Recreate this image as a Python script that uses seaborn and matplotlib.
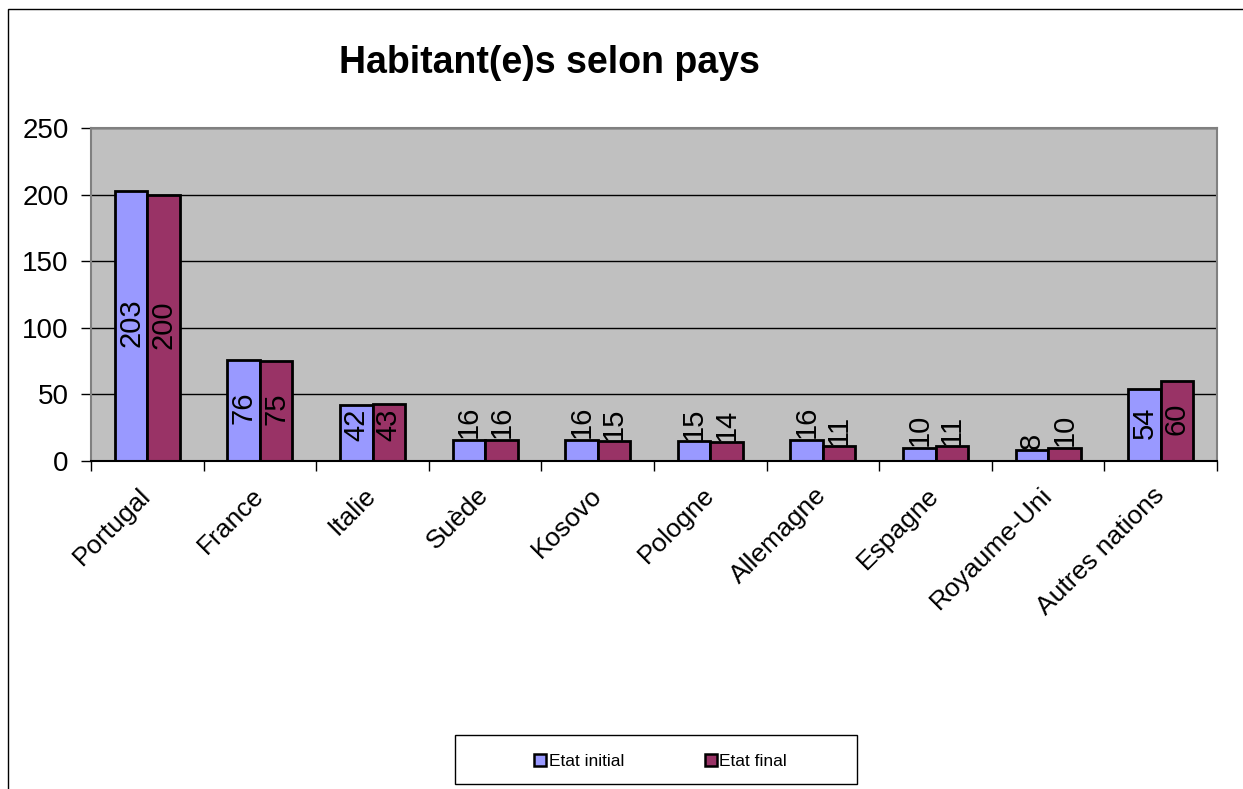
import matplotlib
matplotlib.use("Agg")
import matplotlib.pyplot as plt
import seaborn as sns
import pandas as pd
import numpy as np
from matplotlib.patches import Rectangle
from matplotlib.lines import Line2D

countries = ["Portugal", "France", "Italie", "Suède", "Kosovo", "Pologne",
             "Allemagne", "Espagne", "Royaume-Uni", "Autres nations"]
etat_initial = [203, 76, 42, 16, 16, 15, 16, 10, 8, 54]
etat_final = [200, 75, 43, 16, 15, 14, 11, 11, 10, 60]
series_names = ["Etat initial", "Etat final"]
colors = ["#9999FF", "#993366"]
title = "Habitant(e)s selon pays"

df = pd.DataFrame({
    "pays": countries * 2,
    "valeur": etat_initial + etat_final,
    "serie": [series_names[0]] * len(countries) + [series_names[1]] * len(countries),
})

sns.set_style("white")
plt.rcParams["font.family"] = ["Liberation Sans", "DejaVu Sans"]
plt.rcParams["text.color"] = "black"
plt.rcParams["xtick.color"] = "black"
plt.rcParams["ytick.color"] = "black"
plt.rcParams["axes.labelcolor"] = "black"

fig = plt.figure(figsize=(12.43, 7.89), dpi=100)
W, H = 1243, 789
ax = fig.add_axes([91 / W, 1 - 461 / H, (1217 - 91) / W, (461 - 128) / H])
ax.set_facecolor("#C0C0C0")

sns.barplot(data=df, x="pays", y="valeur", hue="serie", order=countries,
            hue_order=series_names, palette=colors, width=0.577,
            edgecolor="black", linewidth=2, saturation=1, ax=ax, legend=False)

ax.set_ylim(0, 250)
ax.set_xlim(-0.5, len(countries) - 0.5)
ax.set_yticks([0, 50, 100, 150, 200, 250])
ax.yaxis.grid(True, color="black", linewidth=1)
ax.set_axisbelow(True)
ax.set_xlabel("")
ax.set_ylabel("")

for s in ["top", "right", "left"]:
    ax.spines[s].set_color("#808080")
    ax.spines[s].set_linewidth(1.5)
ax.spines["bottom"].set_color("black")
ax.spines["bottom"].set_linewidth(1.5)

ax.tick_params(axis="y", length=7, width=1, color="black", labelsize=20, pad=9,
               direction="out", left=True, labelcolor="black")
ax.set_xticks(np.arange(len(countries)))
ax.set_xticks(np.arange(len(countries) + 1) - 0.5, minor=True)
ax.tick_params(axis="x", which="major", length=0, pad=22, labelcolor="black")
ax.tick_params(axis="x", which="minor", length=7, width=1, color="black", direction="out", bottom=True)
ax.set_xticklabels(countries, rotation=45, ha="right", va="center",
                   rotation_mode="anchor", fontsize=19, color="black")

# data labels
for cont in ax.containers:
    for bar in cont:
        v = bar.get_height()
        x = bar.get_x() + bar.get_width() / 2
        txt = f"{int(round(v))}"
        if v > 30:
            ax.text(x, max(v / 2 + 2, 27), txt, rotation=90, ha="center", va="center",
                    fontsize=21, color="black")
        else:
            ax.text(x, v + 1, txt, rotation=90, ha="center", va="bottom",
                    fontsize=21, color="black")

fig.text(549 / W, 1 - 63 / H, title, ha="center", va="center", fontsize=27,
         fontweight="bold", color="black")

# outer chart border
fig.patches.append(Rectangle((8 / W, -0.1), 1.2, 1 - 9 / H + 0.1, transform=fig.transFigure,
                             fill=False, edgecolor="black", linewidth=1))

# legend box
fig.patches.append(Rectangle((455 / W, 1 - 784 / H), 402 / W, 49 / H, transform=fig.transFigure,
                             fill=True, facecolor="white", edgecolor="black", linewidth=1))
handles = [Line2D([], [], marker="s", linestyle="none", markersize=8,
                  markerfacecolor=c, markeredgecolor="black", markeredgewidth=1.8) for c in colors]
fig.legend(handles, series_names, loc="center", bbox_to_anchor=(660 / W, 1 - 761 / H),
           ncol=2, frameon=False, fontsize=12.5, handletextpad=0.1, columnspacing=4.6,
           handlelength=0.8, labelcolor="black")

fig.savefig("out.png", dpi=100)
